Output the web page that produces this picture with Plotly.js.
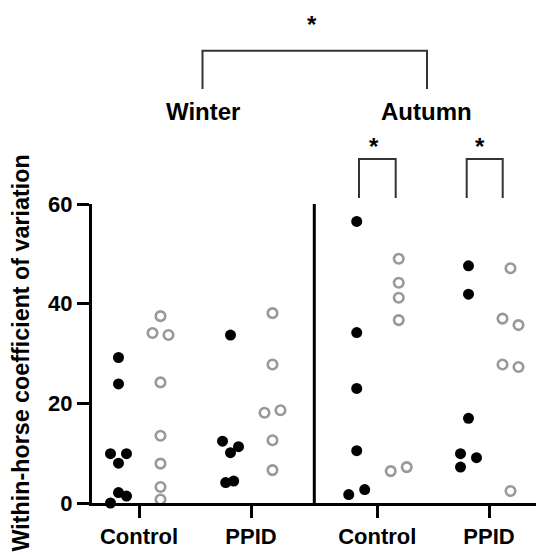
<!DOCTYPE html>
<html>
<head>
<meta charset="utf-8">
<script src="https://cdn.plot.ly/plotly-3.0.1.min.js"></script>
<style>html,body{margin:0;padding:0;background:#fff;}#chart{width:536px;height:555px;}</style>
</head>
<body>
<div id="chart"></div>
<script>
// ---- data ----
const groupLabels = ['Control', 'PPID', 'Control', 'PPID'];
const seasonLabels = ['Winter', 'Autumn'];
const groupPos = [0, 1, 2.127, 3.125];

const winterControlBlack = [29.2, 23.9, 9.9, 9.9, 8.0, 2.1, 1.4, 0.0];
const winterControlGrey  = [37.5, 34.1, 33.7, 24.2, 13.5, 7.9, 3.2, 0.7];
const winterPPIDBlack    = [33.7, 12.4, 11.3, 10.1, 4.1, 4.4];
const winterPPIDGrey     = [38.1, 27.8, 18.1, 18.6, 12.6, 6.6];
const autumnControlBlack = [56.5, 34.2, 23.0, 10.5, 1.7, 2.7];
const autumnControlGrey  = [49.0, 44.2, 41.2, 36.7, 6.4, 7.2];
const autumnPPIDBlack    = [47.6, 41.9, 17.0, 9.9, 9.1, 7.2];
const autumnPPIDGrey     = [47.1, 37.0, 35.7, 27.8, 27.3, 2.4];

// horizontal jitter slots for overlapping points
const jWCB = [0, 0, -1, 1, 0, 0, 1, -1];
const jWCG = [0, -1, 1, 0, 0, 0, 0, 0];
const jWPB = [0, -1, 1, 0, -0.6, 0.4];
const jWPG = [0, 0, -1, 1, 0, 0];
const jACB = [0, 0, 0, 0, -1, 1];
const jACG = [0, 0, 0, 0, -1, 1];
const jAPB = [0, 0, 0, -1, 1, -1];
const jAPG = [0, -1, 1, -1, 1, 0];

// ---- layout helpers ----
const dodgeBlack = -0.183, dodgeGrey = 0.192, jitterUnit = 0.0714;
const W = 536, H = 555, mL = 92, mR = 0, mT = 204, mB = 52;
const pw = W - mL - mR, ph = H - mT - mB;
const px = X => (X - mL) / pw;
const py = Y => (H - mB - Y) / ph;

function build(groups, dodge) {
  const xs = [], ys = [];
  groups.forEach(([vals, jit], gi) => {
    vals.forEach((v, i) => { xs.push(groupPos[gi] + dodge + jit[i] * jitterUnit); ys.push(v); });
  });
  return {xs, ys};
}
const black = build([[winterControlBlack, jWCB], [winterPPIDBlack, jWPB], [autumnControlBlack, jACB], [autumnPPIDBlack, jAPB]], dodgeBlack);
const grey = build([[winterControlGrey, jWCG], [winterPPIDGrey, jWPG], [autumnControlGrey, jACG], [autumnPPIDGrey, jAPG]], dodgeGrey);

const FONT = 'Liberation Sans, Arial, Helvetica, sans-serif';

const traces = [
  {x: black.xs, y: black.ys, type: 'scatter', mode: 'markers', cliponaxis: false,
   marker: {symbol: 'circle', size: 11, color: '#000000', line: {width: 0}}, hoverinfo: 'y'},
  {x: grey.xs, y: grey.ys, type: 'scatter', mode: 'markers', cliponaxis: false,
   marker: {symbol: 'circle-open', size: 9.5, color: '#999999', line: {width: 2.6, color: '#999999'}}, hoverinfo: 'y'}
];

const xLeft = (mL - 139) / 112, xRight = (W - mR - 139) / 112;
const dividerX = (314.3 - 139) / 112;

const bracket = (x1, x2, yTop, yBot) => ({
  type: 'path', xref: 'paper', yref: 'paper',
  path: `M ${px(x1)} ${py(yBot)} L ${px(x1)} ${py(yTop)} L ${px(x2)} ${py(yTop)} L ${px(x2)} ${py(yBot)}`,
  line: {color: '#333333', width: 2}
});
const txt = (t, X, Y, size) => ({
  text: t, xref: 'paper', yref: 'paper', x: px(X), y: py(Y), xanchor: 'center', yanchor: 'middle',
  showarrow: false, font: {family: FONT, size: size, color: '#000', weight: 'bold'}
});

const layout = {
  width: W, height: H,
  margin: {l: mL, r: mR, t: mT, b: mB, pad: 0},
  paper_bgcolor: '#fff', plot_bgcolor: '#fff',
  showlegend: false,
  font: {family: FONT, color: '#000'},
  xaxis: {
    range: [xLeft, xRight], showgrid: false, zeroline: false,
    showline: true, linewidth: 3, linecolor: '#000',
    ticks: 'outside', ticklen: 12, tickwidth: 3, tickcolor: '#000',
    tickvals: groupPos, ticktext: groupLabels,
    tickfont: {family: FONT, size: 22, color: '#000', weight: 'bold'}
  },
  yaxis: {
    range: [0, 60], showgrid: false, zeroline: false,
    showline: true, linewidth: 3, linecolor: '#000',
    ticks: 'outside', ticklen: 12, tickwidth: 3, tickcolor: '#000',
    tickvals: [0, 20, 40, 60],
    tickfont: {family: FONT, size: 22, color: '#000', weight: 'bold'}
  },
  shapes: [
    {type: 'line', xref: 'x', yref: 'y', x0: dividerX, x1: dividerX, y0: 0, y1: 60, line: {color: '#000', width: 3}},
    bracket(202.5, 427, 50.7, 89),
    bracket(359, 395.7, 159, 198),
    bracket(466.7, 502.7, 159, 198)
  ],
  annotations: [
    txt(seasonLabels[0], 203, 111.5, 24),
    txt(seasonLabels[1], 426.5, 111.5, 24),
    txt('*', 311.8, 24, 24),
    txt('*', 374, 147, 24),
    txt('*', 479.5, 147, 24),
    Object.assign(txt('Within-horse coefficient of variation', 20, 353.5, 23.3), {textangle: -90})
  ]
};

Plotly.newPlot('chart', traces, layout, {displayModeBar: false, staticPlot: true});
</script>
</body>
</html>
